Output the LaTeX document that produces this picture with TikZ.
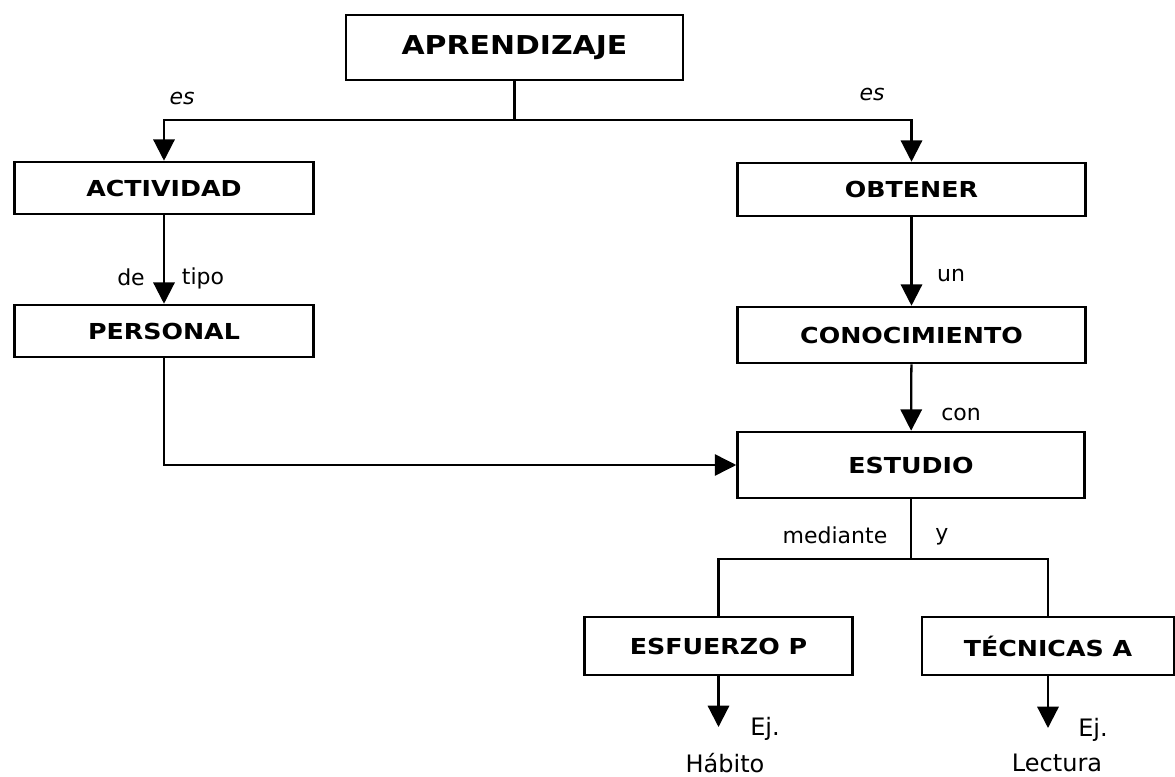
\documentclass[tikz,border=0pt]{standalone}
\usepackage{fontspec}
\setmainfont{DejaVu Sans}
\newfontfamily\boxfont[FakeStretch=1.15]{DejaVu Sans}
\usetikzlibrary{arrows.meta}
\begin{document}
\begin{tikzpicture}[x=0.75pt,y=-0.75pt,
  concept/.style={draw, line width=1.9pt, rectangle, inner sep=0pt,
    font=\boxfont\bfseries\fontsize{16.5}{18}\selectfont},
  title/.style={concept, font=\boxfont\bfseries\fontsize{19.5}{22}\selectfont},
  link/.style={line width=1.7pt, -{Triangle[length=16pt,width=16pt]}},
  plain/.style={line width=1.6pt},
  thin/.style={line width=1.1pt},
  lbl/.style={inner sep=0pt, font=\fontsize{16.5}{18}\selectfont},
  ex/.style={inner sep=0pt, font=\fontsize{18}{20}\selectfont}]
\fill[white] (0,0) rectangle (1175,777);
\useasboundingbox (0,0) rectangle (1175,777);

% concepts
\node[title, minimum width=252.75pt, minimum height=48.75pt] (apr) at (514.5,47.5) {APRENDIZAJE};
\node[concept, minimum width=224.25pt, minimum height=39pt] (act) at (164,188) {ACTIVIDAD};
\node[concept, minimum width=261pt, minimum height=39.75pt] (obt) at (911.5,189.5) {OBTENER};
\node[concept, minimum width=224.25pt, minimum height=39pt] (per) at (164,331) {PERSONAL};
\node[concept, minimum width=261pt, minimum height=42pt] (con) at (911.5,335) {CONOCIMIENTO};
\node[concept, minimum width=260.25pt, minimum height=49.5pt] (est) at (911,465) {ESTUDIO};
\node[concept, minimum width=201pt, minimum height=43.5pt] (esf) at (718.5,646) {ESFUERZO P};
\node[concept, minimum width=189pt, minimum height=43.5pt] (tec) at (1048,646) {TÉCNICAS A};

% junction points and free ends
\coordinate (j1) at (514.5,120);
\coordinate (j2) at (911,559);
\coordinate (h1) at (718.5,727);
\coordinate (h2) at (1048,728);

% connectors
\draw[plain] (apr.south) -- (j1);
\draw[link] (j1) -| (act.north);
\draw[link] (j1) -| (obt.north);
\draw[link] (act) -- (per);
\draw[link] (obt) -- (con);
\draw[link] (con) -- (est);
\draw[thin, -{Triangle[length=16pt,width=16pt]}] (per.south) |- (est.west);
\draw[thin] (est.south) -- (j2);
\draw[plain] (j2) -| (esf.north);
\draw[plain] (j2) -| (tec.north);
\draw[link] (esf.south) -- (h1);
\draw[link] (tec.south) -- (h2);

% link labels
\node[lbl, font=\itshape\fontsize{16.5}{18}\selectfont] (es1) at (182,98) {es};
\node[lbl, font=\itshape\fontsize{16.5}{18}\selectfont] (es2) at (872,94) {es};
\node[lbl] (de) at (131,277) {de};
\node[lbl] (tipo) at (203,278) {tipo};
\node[lbl] (un) at (951,275) {un};
\node[lbl] (cn) at (961,414) {con};
\node[lbl] (med) at (835,535) {mediante};
\node[lbl] (yy) at (942,537) {y};

% examples
\node[ex] (ej1) at (765,729) {Ej.};
\node[ex] (ej2) at (1093,730) {Ej.};
\node[ex] (hab) at (725,763) {Hábito};
\node[ex] (lec) at (1057,763) {Lectura};
\end{tikzpicture}
\end{document}
